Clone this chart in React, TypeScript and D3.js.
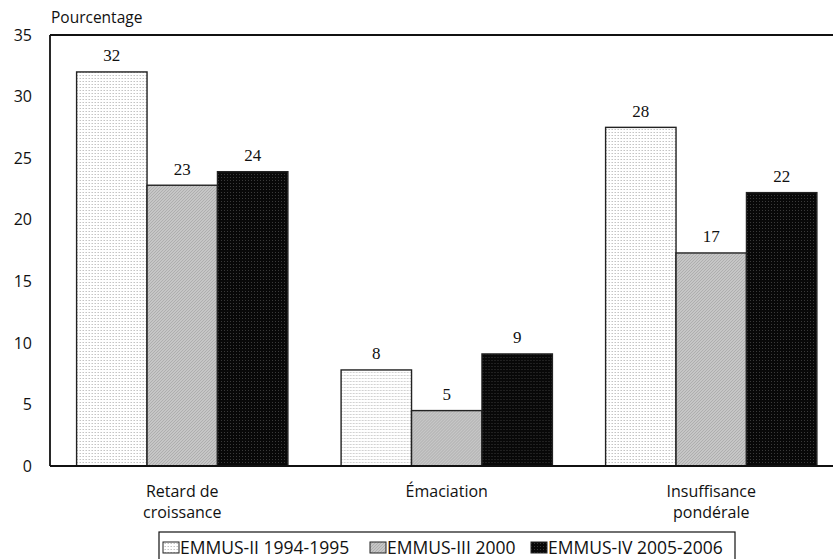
import React from "react";
import * as d3 from "d3";

const categories = ["Retard de\ncroissance", "Émaciation", "Insuffisance\npondérale"];
const seriesNames = ["EMMUS-II 1994-1995", "EMMUS-III 2000", "EMMUS-IV 2005-2006"];
const s1 = [32.0, 7.8, 27.5];
const s2 = [22.8, 4.5, 17.3];
const s3 = [23.9, 9.1, 22.2];
const labels1 = ["32", "8", "28"];
const labels2 = ["23", "5", "17"];
const labels3 = ["24", "9", "22"];
const yTicks = [0, 5, 10, 15, 20, 25, 30, 35];

const W = 833;
const H = 559;
const left = 50;
const top = 35;
const bottom = 466;
const rightEdge = 843.5;

const sansFont = "'Open Sans', Lato, sans-serif";
const serifFont = "'Liberation Serif', 'DejaVu Serif', serif";

export default function App() {
  const y = d3.scaleLinear().domain([0, 35]).range([bottom, top]);
  const x0 = d3.scaleBand<string>().domain(categories).range([left, rightEdge]).padding(0);
  const inner = 26.6;
  const x1 = d3
    .scaleBand<string>()
    .domain(seriesNames)
    .range([inner, x0.bandwidth() - inner])
    .padding(0);
  const series = [
    { name: seriesNames[0], values: s1, labels: labels1, fill: "url(#p1)" },
    { name: seriesNames[1], values: s2, labels: labels2, fill: "url(#p2)" },
    { name: seriesNames[2], values: s3, labels: labels3, fill: "url(#p3)" },
  ];
  const legendX = [163, 370, 531];

  return (
    <div>
      <style>{`body{margin:0}`}</style>
      <svg width={W} height={H} style={{ display: "block" }}>
        <defs>
          <pattern id="p1" width="3" height="3" patternUnits="userSpaceOnUse">
            <rect width="3" height="3" fill="#ffffff" />
            <rect width="1" height="1" fill="#c4c4c4" />
            <rect x="2" y="0" width="1" height="1" fill="#e0e0e0" />
          </pattern>
          <pattern id="p2" width="3" height="3" patternUnits="userSpaceOnUse">
            <rect width="3" height="3" fill="#c6c6c6" />
            <path d="M0,3 L3,0" stroke="#a8a8a8" strokeWidth="0.8" />
          </pattern>
          <pattern id="p3" width="3" height="3" patternUnits="userSpaceOnUse">
            <rect width="3" height="3" fill="#080808" />
            <rect width="1" height="1" fill="#3a3a3a" />
          </pattern>
        </defs>
        <rect width={W} height={H} fill="#ffffff" />
        {categories.map((c, ci) => (
          <g key={c} transform={`translate(${x0(c)},0)`}>
            {series.map((s) => (
              <g key={s.name}>
                <rect
                  x={x1(s.name)}
                  y={y(s.values[ci])}
                  width={x1.bandwidth()}
                  height={bottom - y(s.values[ci])}
                  fill={s.fill}
                  stroke="#222"
                  strokeWidth={1.4}
                />
                <text
                  x={(x1(s.name) as number) + x1.bandwidth() / 2}
                  y={y(s.values[ci]) - 10.5}
                  textAnchor="middle"
                  fontFamily={serifFont}
                  fontSize={17}
                  fill="#111"
                >
                  {s.labels[ci]}
                </text>
              </g>
            ))}
          </g>
        ))}
        <line x1={left} y1={top} x2={W} y2={top} stroke="#111" strokeWidth={1.8} />
        <line x1={left} y1={bottom} x2={W} y2={bottom} stroke="#111" strokeWidth={1.8} />
        <line x1={left} y1={top} x2={left} y2={bottom} stroke="#111" strokeWidth={1.8} />
        {yTicks.map((t) => (
          <text
            key={t}
            x={32}
            y={y(t)}
            dy="0.36em"
            textAnchor="end"
            fontFamily={sansFont}
            fontSize={16}
            fill="#111"
          >
            {t}
          </text>
        ))}
        <text x={51} y={23} fontFamily={sansFont} fontSize={15.5} fill="#111">
          Pourcentage
        </text>
        {categories.map((c) => {
          const lines = c.split("\n");
          const cx = (x0(c) as number) + x0.bandwidth() / 2;
          return (
            <text key={c} textAnchor="middle" fontFamily={sansFont} fontSize={16} fill="#111">
              {lines.map((l, i) => (
                <tspan key={i} x={cx} y={497 + i * 21}>
                  {l}
                </tspan>
              ))}
            </text>
          );
        })}
        <rect x={159} y={532} width={576} height={30} fill="none" stroke="#111" strokeWidth={1.2} />
        {series.map((s, i) => (
          <g key={s.name}>
            <rect x={legendX[i]} y={542} width={16} height={11} fill={s.fill} stroke="#222" strokeWidth={1} />
            <text x={legendX[i] + 17} y={554} fontFamily={sansFont} fontSize={17.5} fill="#111">
              {s.name}
            </text>
          </g>
        ))}
      </svg>
    </div>
  );
}
